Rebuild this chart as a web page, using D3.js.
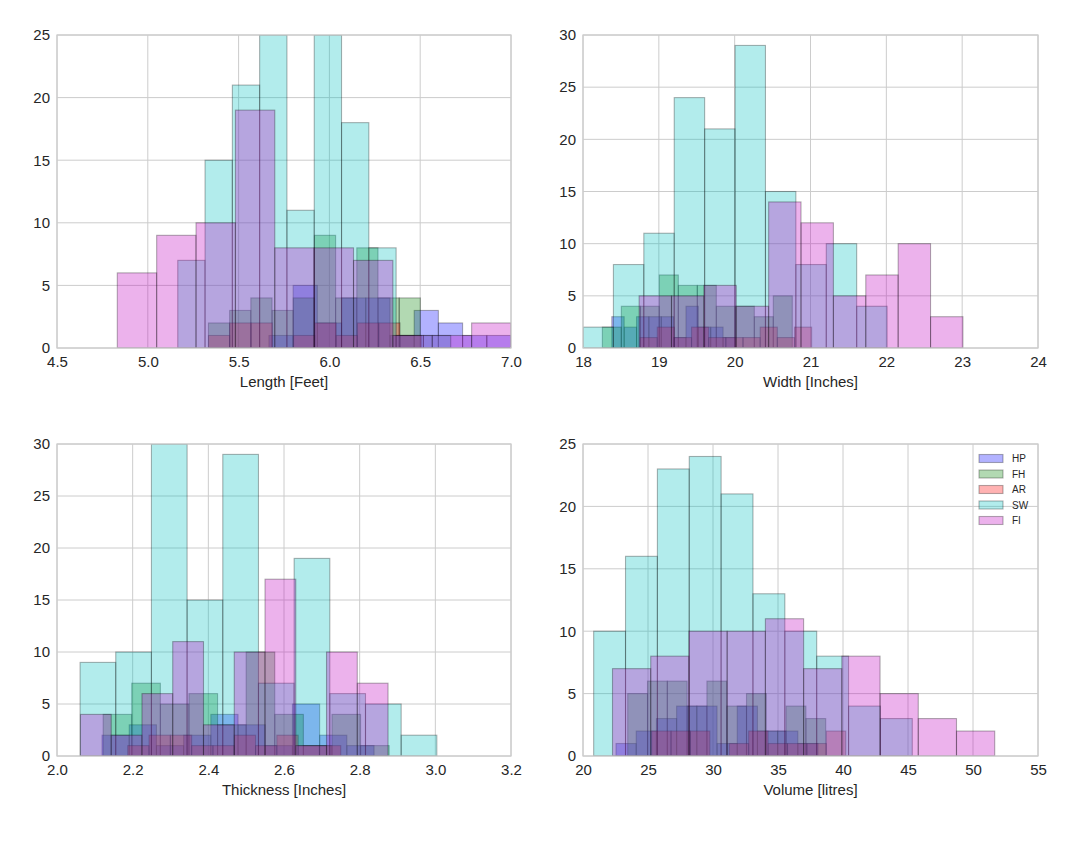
<!DOCTYPE html>
<html><head><meta charset="utf-8">
<script src="https://cdn.jsdelivr.net/npm/d3@7"></script>
<style>
body{margin:0;background:#fff;}
text{font-family:"Liberation Sans",Arial,sans-serif;fill:#262626;}
</style></head>
<body><svg id="chart" width="1075" height="842"></svg>
<script>
// ---- data ----
const seriesNames = ["HP","FH","AR","SW","FI"];

// Length [Feet]: per series [min, max] of the 10 histogram bins, then counts
const lengthLo = [5.667, 5.334, 5.334, 5.165, 4.832];
const lengthHi = [7.000, 6.501, 6.506, 6.668, 7.000];
const lengthHP = [1,5,2,4,4,1,3,2,1,1];
const lengthFH = [2,3,4,3,4,9,4,8,4,4];
const lengthAR = [1,2,2,0,1,2,1,2,2,1];
const lengthSW = [7,15,21,25,11,25,18,8,1,1];
const lengthFI = [6,9,10,19,8,8,7,1,1,2];

// Width [Inches]
const widthLo = [18.38, 18.255, 18.753, 18.00, 18.74];
const widthHi = [20.01, 20.76, 21.015, 22.01, 23.01];
const widthHP = [3,2,3,3,3,1,4,2,2,1];
const widthFH = [2,4,4,7,6,6,4,4,3,5];
const widthAR = [1,2,1,2,1,1,1,2,1,2];
const widthSW = [2,8,11,24,21,29,15,8,10,4];
const widthFI = [5,5,6,4,14,12,5,7,10,3];

// Thickness [Inches]
const thickLo = [2.119, 2.122, 2.187, 2.061, 2.062];
const thickHi = [2.838, 2.878, 2.750, 3.004, 2.875];
const thickHP = [2,3,1,2,4,3,1,5,2,1];
const thickFH = [4,7,5,6,3,10,4,1,4,1];
const thickAR = [1,2,2,1,1,2,1,2,1,1];
const thickSW = [9,10,30,15,29,7,19,6,5,2];
const thickFI = [4,2,6,11,3,10,17,1,10,7];

// Volume [litres]
const volLo = [22.54, 23.44, 25.28, 20.82, 22.27];
const volHi = [38.08, 38.67, 40.21, 45.33, 51.67];
const volHP = [1,2,3,4,4,1,4,2,2,1];
const volFH = [5,6,6,4,6,4,5,2,4,3];
const volAR = [2,2,2,0,1,2,1,1,1,2];
const volSW = [10,16,23,24,21,13,10,8,4,3];
const volFI = [7,8,10,10,11,7,8,5,3,2];

// tick labels
const lengthTicks = [4.5,5.0,5.5,6.0,6.5,7.0];
const widthTicks = [18,19,20,21,22,23,24];
const thickTicks = [2.0,2.2,2.4,2.6,2.8,3.0,3.2];
const volTicks = [20,25,30,35,40,45,50,55];
const count25Ticks = [0,5,10,15,20,25];
const count30Ticks = [0,5,10,15,20,25,30];

const axisLabels = ["Length [Feet]","Width [Inches]","Thickness [Inches]","Volume [litres]"];

// ---- style ----
const seriesColors = ["#0000ff","#008000","#ff0000","#00bfbf","#bf00bf"];
const gridColor = "#cccccc";

const panels = [
  {lo:lengthLo, hi:lengthHi, counts:[lengthHP,lengthFH,lengthAR,lengthSW,lengthFI],
   xd:[4.5,7.0], yd:[0,25], xt:lengthTicks, yt:count25Ticks, fmt:".1f", label:axisLabels[0], box:[57,35,511,348]},
  {lo:widthLo, hi:widthHi, counts:[widthHP,widthFH,widthAR,widthSW,widthFI],
   xd:[18,24], yd:[0,30], xt:widthTicks, yt:count30Ticks, fmt:"d", label:axisLabels[1], box:[583,35,1038,348]},
  {lo:thickLo, hi:thickHi, counts:[thickHP,thickFH,thickAR,thickSW,thickFI],
   xd:[2.0,3.2], yd:[0,30], xt:thickTicks, yt:count30Ticks, fmt:".1f", label:axisLabels[2], box:[57,444,511,756]},
  {lo:volLo, hi:volHi, counts:[volHP,volFH,volAR,volSW,volFI],
   xd:[20,55], yd:[0,25], xt:volTicks, yt:count25Ticks, fmt:"d", label:axisLabels[3], box:[583,444,1038,756], legend:true}
];

const svg = d3.select("#chart");

panels.forEach((p, pi) => {
  const [x0,y0,x1,y1] = p.box;
  const x = d3.scaleLinear().domain(p.xd).range([x0,x1]);
  const y = d3.scaleLinear().domain(p.yd).range([y1,y0]);
  const g = svg.append("g");

  const clipId = "clip"+pi;
  svg.append("clipPath").attr("id",clipId).append("rect")
    .attr("x",x0).attr("y",y0).attr("width",x1-x0).attr("height",y1-y0);

  // grid
  g.selectAll(".gx").data(p.xt).join("line")
    .attr("x1",d=>x(d)).attr("x2",d=>x(d)).attr("y1",y0).attr("y2",y1)
    .attr("stroke",gridColor).attr("stroke-width",1);
  g.selectAll(".gy").data(p.yt).join("line")
    .attr("y1",d=>y(d)).attr("y2",d=>y(d)).attr("x1",x0).attr("x2",x1)
    .attr("stroke",gridColor).attr("stroke-width",1);

  // bars
  const bars = g.append("g").attr("clip-path",`url(#${clipId})`);
  seriesNames.forEach((name, si) => {
    const lo = p.lo[si], hi = p.hi[si], w = (hi-lo)/p.counts[si].length;
    const bins = p.counts[si].map((c,j)=>({a:lo+j*w, b:lo+(j+1)*w, c}));
    bars.append("g").selectAll("rect").data(bins.filter(d=>d.c>0)).join("rect")
      .attr("x",d=>x(d.a)).attr("width",d=>x(d.b)-x(d.a))
      .attr("y",d=>y(d.c)).attr("height",d=>y(0)-y(d.c))
      .attr("fill",seriesColors[si]).attr("fill-opacity",0.3)
      .attr("stroke","#000").attr("stroke-opacity",0.3).attr("stroke-width",1.1);
  });

  // frame
  g.append("rect").attr("x",x0).attr("y",y0).attr("width",x1-x0).attr("height",y1-y0)
    .attr("fill","none").attr("stroke",gridColor).attr("stroke-width",1.25);

  // axes
  const xa = svg.append("g").attr("transform",`translate(0,${y1})`)
    .call(d3.axisBottom(x).tickValues(p.xt).tickFormat(d3.format(p.fmt)).tickSize(0).tickPadding(8));
  const ya = svg.append("g").attr("transform",`translate(${x0},0)`)
    .call(d3.axisLeft(y).tickValues(p.yt).tickFormat(d3.format("d")).tickSize(0).tickPadding(7));
  [xa,ya].forEach(a=>{
    a.select(".domain").remove();
    a.selectAll("text").style("font-size","15px").attr("fill","#262626")
      .style("font-family","'Liberation Sans',Arial,sans-serif");
  });

  svg.append("text").attr("x",(x0+x1)/2).attr("y",y1+39)
    .attr("text-anchor","middle").style("font-size","15px").text(p.label);

  if (p.legend) {
    const lg = svg.append("g");
    seriesNames.forEach((name, si) => {
      const cy = 458.5 + si*15.5;
      lg.append("rect").attr("x",979).attr("y",cy-4).attr("width",24).attr("height",8)
        .attr("fill",seriesColors[si]).attr("fill-opacity",0.3)
        .attr("stroke","#000").attr("stroke-opacity",0.3).attr("stroke-width",1.1);
      lg.append("text").attr("x",1012).attr("y",cy+3.5).style("font-size","10px").text(name);
    });
  }
});
</script></body></html>
